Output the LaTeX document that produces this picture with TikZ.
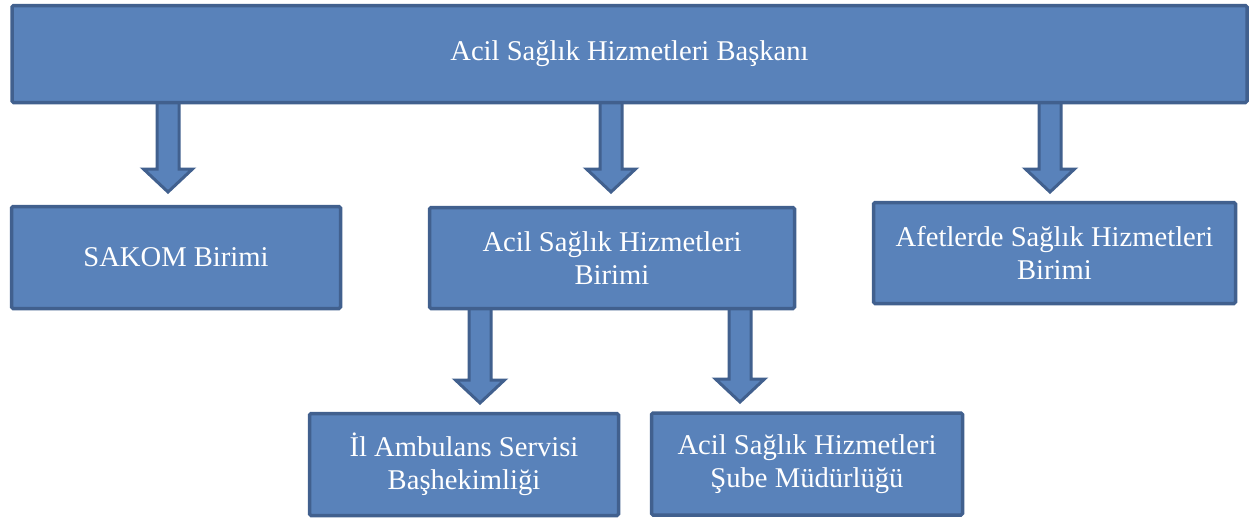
\documentclass[tikz,border=0pt]{standalone}
\usepackage{fontspec}
\setmainfont{Liberation Serif}
\usetikzlibrary{calc}
\definecolor{boxfill}{HTML}{5982BA}
\definecolor{boxline}{HTML}{41608E}
\tikzset{
  orgbox/.style={draw=boxline, fill=boxfill, line width=3.5pt, rounded corners=1.5pt,
    text=white, align=center, inner sep=0pt,
    font=\fontsize{28.6}{32.5}\selectfont},
  blockarrow/.style={draw=boxline, fill=boxfill, line width=3pt, line join=miter}
}
\newcommand\blockarr[2]{%
  \draw[blockarrow] ($(#1)+(-11,0)$) -- ($(#2)+(-11,-23)$) -- ($(#2)+(-24.5,-23)$)
    -- (#2) -- ($(#2)+(24.5,-23)$) -- ($(#2)+(11,-23)$) -- ($(#1)+(11,0)$) -- cycle;}
\begin{document}
\begin{tikzpicture}[x=1pt,y=-1pt]
\useasboundingbox (0,0) rectangle (1253,520);
% arrows first
\coordinate (a1s) at (168,98);   \coordinate (a1e) at (168,192);
\coordinate (a2s) at (611,98);   \coordinate (a2e) at (611,192);
\coordinate (a3s) at (1050,98);  \coordinate (a3e) at (1050,192);
\coordinate (a4s) at (480,305);  \coordinate (a4e) at (480,403);
\coordinate (a5s) at (740,305);  \coordinate (a5e) at (740,402);
\blockarr{a1s}{a1e}
\blockarr{a2s}{a2e}
\blockarr{a3s}{a3e}
\blockarr{a4s}{a4e}
\blockarr{a5s}{a5e}
% boxes
\node[orgbox, minimum width=1235, minimum height=97] (top) at (629.5,54) {Acil Sağlık Hizmetleri Başkanı};
\node[orgbox, minimum width=329, minimum height=102] (sakom) at (176,257.5) {SAKOM Birimi};
\node[orgbox, minimum width=365, minimum height=101] (asb) at (612,258) {Acil Sağlık Hizmetleri\\Birimi};
\node[orgbox, minimum width=362, minimum height=101] (afet) at (1054.5,253) {Afetlerde Sağlık Hizmetleri\\Birimi};
\node[orgbox, minimum width=309, minimum height=102] (il) at (464,464.5) {İl Ambulans Servisi\\Başhekimliği};
\node[orgbox, minimum width=311, minimum height=102] (sube) at (807,464) {Acil Sağlık Hizmetleri\\Şube Müdürlüğü};
\end{tikzpicture}
\end{document}
